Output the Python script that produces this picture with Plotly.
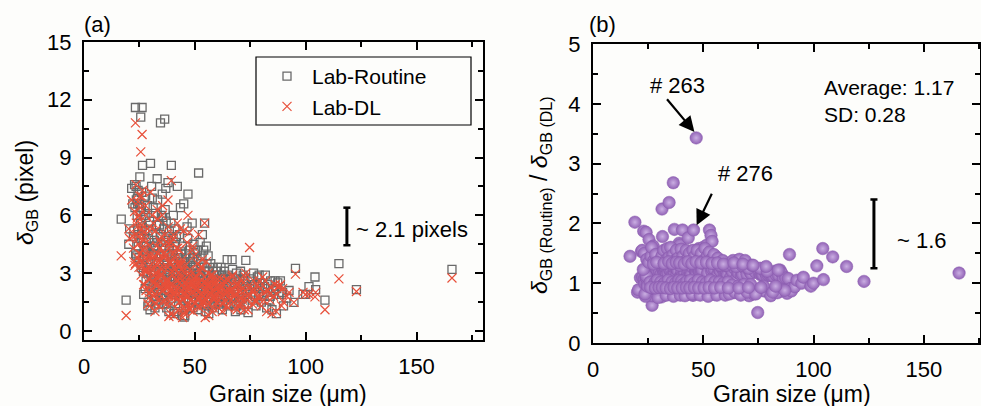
import plotly.graph_objects as go

# ---------------- data ----------------
grain_size = [
    # 16-23 um
    16.8, 19.0, 20.2, 20.6, 21.5, 22.0, 22.5, 23.0,
    # 23-30 um
    23.2, 26.2, 25.6, 23.5, 24.0, 24.1, 24.3, 24.5, 24.8, 25.0, 25.2, 25.4, 25.5, 25.8, 26.0, 26.4, 26.7, 26.8,
    26.9, 27.0, 27.3, 27.5, 27.8, 28.0, 28.3, 28.6, 28.8, 29.0, 29.3, 29.6, 29.8, 30.0, 30.2, 23.8, 24.2, 22.8,
    # 30-45 um
    30.5, 30.8, 31.0, 31.1, 31.3, 31.5, 31.6, 31.8, 32.0, 32.3, 32.5, 32.7, 32.8, 33.0, 33.3, 33.5, 33.6, 33.8,
    34.0, 34.2, 34.5, 34.6, 34.8, 35.0, 35.3, 35.5, 35.6, 36.0, 36.4, 36.6, 36.8, 36.9, 37.0, 37.3, 37.5, 37.6,
    37.9, 38.0, 38.2, 38.3, 38.5, 38.8, 39.1, 39.4, 39.5, 39.7, 40.0, 40.1, 40.3, 40.5, 40.6, 40.9, 41.0, 41.2,
    41.5, 41.8, 42.0, 42.1, 42.4, 42.7, 43.0, 43.2, 43.3, 43.5, 43.8, 44.0, 44.1, 44.4, 44.5, 44.7, 45.0, 45.2,
    45.5,
    # 45-60 um
    45.6, 46.0, 46.3, 46.5, 46.8, 46.9, 47.0, 47.4, 47.5, 47.8, 48.0, 48.2, 48.5, 48.8, 49.0, 49.2, 49.5, 49.8,
    50.0, 50.2, 50.6, 51.0, 51.3, 51.5, 51.7, 52.0, 52.4, 52.5, 52.8, 53.1, 53.4, 53.5, 53.8, 54.0, 54.1, 54.4,
    54.7, 55.0, 55.3, 55.5, 55.6, 56.0, 56.3, 56.7, 57.0, 57.4, 57.8, 58.0, 58.2, 58.6, 59.0, 59.4, 59.8,
    # 60-90 um
    60.2, 60.6, 61.0, 61.5, 62.0, 62.4, 62.8, 63.3, 63.7, 64.1, 64.6, 65.0, 65.5, 66.0, 66.8, 67.3, 67.8, 68.3,
    68.8, 69.3, 69.8, 70.3, 70.8, 71.3, 71.8, 72.3, 72.8, 73.0, 73.5, 74.0, 74.7, 75.3, 76.0, 76.5, 77.0, 77.6,
    78.2, 78.8, 79.4, 80.0, 80.6, 81.2, 81.8, 82.4, 83.0, 83.6, 84.2, 84.8, 85.5, 86.2, 86.8, 87.4, 88.0, 88.6,
    89.1, 89.6, 90.0,
    # > 90 um
    91.5, 92.5, 94.7, 95.4, 98.8, 100.0, 101.5, 104.2, 104.5, 108.7, 115.0, 122.9, 166.0,
    # further grains inside the dense cluster
    22.3, 23.3, 23.6, 24.4, 24.7, 25.3, 25.9, 26.3, 26.6, 27.1, 27.6, 27.9, 28.4, 29.1, 29.5,
    30.3, 30.7, 31.2, 31.7, 32.1, 32.4, 32.9, 33.2, 33.7, 34.1, 34.4, 34.9, 35.2, 35.8, 36.2, 36.5, 37.1, 37.4,
    37.8, 38.1, 38.6, 38.9, 39.2, 39.6, 39.9, 40.2, 40.7, 41.1, 41.4, 41.7, 42.2, 42.5, 42.9, 43.4, 43.7, 44.2,
    44.6, 44.9, 45.3, 45.8,
    46.1, 46.6, 47.2, 47.7, 48.1, 48.6, 49.1, 49.6, 50.1, 50.4, 50.8, 51.2, 51.8, 52.2, 52.7, 53.2, 53.7, 54.3,
    54.8, 55.2, 55.8, 56.2, 56.6, 57.2, 57.6, 58.4, 58.8, 59.2, 59.6, 60.0,
    60.4, 61.2, 61.8, 62.6, 63.0, 63.5, 64.4, 64.9, 65.8, 66.4, 67.0, 67.6, 68.5, 69.0, 70.0, 70.6, 71.5, 72.0,
    73.8, 75.8, 77.3, 79.0, 81.5, 84.0, 87.0,
    26.1, 27.4, 28.2, 28.9, 29.9, 31.4, 32.2, 33.1, 34.3, 35.1, 35.9, 36.7, 37.7, 38.4, 39.3, 40.4, 41.3, 42.3,
    43.1, 43.9, 44.8, 45.9, 46.7, 47.9, 48.9, 50.3, 51.4, 52.6, 53.9, 55.1, 56.4, 57.9, 59.1, 61.4, 63.9, 66.2,
    68.0, 70.5, 72.6, 76.2, 78.5, 82.8,
]

delta_routine = [
    5.8, 1.6, 4.5, 5.3, 7.4, 6.6, 5.2, 6.4,
    11.6, 11.6, 11.1, 7.5, 6.0, 6.9, 5.3, 4.4, 3.8, 6.6, 8.0, 6.2, 5.6, 3.3, 7.2, 8.6, 4.6, 3.1,
    1.9, 6.0, 3.9, 5.2, 7.0, 2.6, 4.1, 6.5, 1.3, 3.3, 1.5, 5.7, 1.1, 8.7, 2.9, 3.9, 6.6, 7.6,
    7.5, 6.9, 5.0, 2.0, 4.0, 4.4, 3.1, 1.8, 1.2, 6.1, 2.4, 5.5, 3.6, 7.9, 4.6, 2.0, 2.9, 1.4,
    5.5, 3.2, 10.8, 5.0, 2.8, 4.3, 7.1, 5.9, 1.7, 3.7, 11.0, 6.3, 2.5, 7.4, 4.9, 1.2, 4.0, 3.4,
    7.7, 4.7, 2.2, 1.0, 5.2, 3.0, 1.5, 8.6, 3.6, 4.0, 2.7, 4.2, 6.0, 0.9, 3.5, 1.9, 5.3, 4.6,
    3.1, 2.3, 3.0, 7.5, 1.0, 3.8, 5.0, 2.6, 3.8, 6.4, 1.6, 2.8, 3.3, 4.4, 0.8, 2.1, 6.6, 0.72,
    0.8,
    3.6, 2.2, 3.0, 5.4, 4.8, 7.1, 1.5, 2.7, 4.2, 3.9, 3.0, 1.9, 2.4, 5.6, 3.8, 1.2, 3.3, 2.0,
    4.0, 2.9, 1.6, 3.7, 2.3, 1.1, 8.2, 1.4, 4.6, 2.8, 3.5, 2.1, 5.0, 2.7, 1.8, 4.2, 2.6, 5.6,
    1.0, 3.1, 1.3, 3.5, 2.4, 3.9, 0.9, 2.2, 1.7, 2.8, 1.2, 2.4, 3.3, 2.0, 1.5, 2.6, 1.8,
    3.3, 1.4, 2.4, 1.8, 2.9, 1.1, 2.2, 3.1, 1.6, 2.5, 3.7, 1.3, 2.0, 2.7, 3.7, 1.7, 2.3, 1.0,
    3.0, 2.1, 1.5, 2.6, 1.1, 2.0, 2.9, 1.4, 2.3, 3.66, 1.9, 0.95, 2.2, 2.7, 1.6, 3.0, 2.4, 1.3,
    2.8, 1.9, 2.5, 1.5, 2.2, 1.8, 2.9, 1.2, 2.4, 1.6, 2.6, 1.1, 2.1, 2.6, 0.9, 2.5, 1.9, 2.6,
    1.9, 2.0, 1.3,
    1.7, 2.1, 1.48, 3.25, 1.9, 1.9, 2.3, 2.8, 2.15, 1.6, 3.5, 2.15, 3.2,
    4.9, 4.0, 6.8, 7.3, 5.0, 4.8, 6.4, 5.4, 3.4, 4.4, 2.2, 5.9, 3.7, 4.8, 2.4,
    3.9, 2.5, 6.4, 4.7, 3.0, 1.6, 4.2, 6.8, 3.5, 2.3, 4.9, 6.0, 2.6, 4.6, 3.2, 1.4, 5.7, 2.9,
    3.9, 2.0, 4.4, 2.6, 5.6, 1.7, 3.3, 4.8, 2.4, 3.6, 2.0, 4.9, 2.7, 3.4, 1.8, 3.0, 4.1, 2.4,
    3.6, 1.3, 2.9, 4.0,
    2.6, 3.4, 2.1, 1.2, 3.6, 1.6, 2.7, 4.5, 1.9, 3.2, 2.5, 4.2, 1.8, 3.0, 2.2, 3.9, 1.4, 3.3,
    2.0, 4.4, 1.6, 2.9, 1.9, 3.5, 2.3, 1.4, 2.9, 2.1, 3.1, 1.7,
    2.6, 2.0, 3.3, 1.5, 2.7, 2.0, 1.4, 2.9, 2.3, 1.8, 3.2, 2.1, 2.7, 1.3, 2.4, 3.1, 1.7, 2.6,
    2.1, 2.4, 1.8, 2.9, 2.3, 1.8, 2.2,
    5.0, 4.2, 3.0, 5.2, 3.6, 2.7, 4.4, 2.2, 3.9, 1.9, 5.3, 2.1, 3.1, 4.1, 2.4, 3.0, 2.6, 4.0,
    2.0, 3.2, 2.5, 1.7, 3.1, 2.2, 3.4, 2.6, 3.0, 1.6, 2.4, 2.0, 3.1, 2.5, 2.2, 2.1, 2.8, 1.8,
    2.5, 1.6, 2.7, 1.9, 2.3, 2.0,
]

delta_dl = [
    3.9, 0.8, 5.3, 4.8, 6.8, 4.9, 3.6, 3.4,
    10.8, 10.2, 9.3, 7.6, 5.4, 3.8, 4.9, 4.5, 3.3, 6.0, 7.0, 3.6, 6.4, 2.9, 5.5, 7.3, 3.6, 4.9,
    2.4, 4.7, 2.4, 4.3, 6.5, 2.1, 4.6, 5.3, 1.4, 2.7, 1.7, 4.4, 1.3, 7.2, 3.4, 5.0, 5.9, 6.2,
    5.3, 6.0, 3.8, 2.6, 1.8, 2.5, 2.5, 1.9, 1.0, 5.2, 2.8, 4.4, 3.0, 6.3, 4.0, 1.6, 3.6, 1.3,
    4.7, 3.7, 4.6, 3.3, 2.3, 3.2, 6.0, 6.5, 1.5, 3.3, 4.1, 5.0, 2.2, 3.9, 3.9, 1.4, 2.6, 2.7,
    6.8, 5.4, 1.8, 0.75, 4.3, 3.5, 0.9, 7.8, 2.2, 3.1, 2.4, 4.8, 5.0, 0.8, 1.85, 2.2, 3.8, 3.6,
    2.7, 2.6, 3.5, 5.6, 1.1, 3.4, 4.2, 1.5, 2.5, 5.3, 1.8, 3.2, 2.9, 3.7, 0.7, 1.6, 5.2, 0.9,
    1.0,
    1.9, 2.5, 2.4, 4.6, 1.4, 6.0, 1.3, 3.0, 5.1, 3.2, 1.9, 1.6, 2.0, 4.2, 4.4, 1.0, 2.7, 2.3,
    2.5, 2.2, 1.9, 2.8, 1.7, 1.3, 5.0, 1.2, 3.1, 3.3, 1.85, 2.4, 3.7, 1.5, 1.5, 2.5, 2.1, 5.6,
    0.7, 2.5, 1.6, 2.4, 1.8, 3.0, 0.8, 1.9, 2.0, 2.3, 1.0, 2.9, 2.6, 1.6, 1.8, 2.2, 1.5,
    2.7, 1.2, 2.1, 2.0, 2.3, 1.0, 1.8, 2.6, 1.9, 2.0, 2.7, 1.2, 1.7, 2.3, 2.8, 1.5, 2.0, 1.2,
    2.4, 2.4, 1.3, 2.1, 1.4, 1.7, 2.5, 1.1, 2.8, 3.0, 1.6, 1.1, 4.33, 2.3, 1.4, 2.6, 2.1, 1.5,
    2.4, 1.7, 2.2, 1.3, 2.8, 1.6, 2.6, 1.0, 2.1, 1.9, 2.3, 0.9, 1.8, 2.4, 1.0, 2.3, 2.3, 2.4,
    1.3, 2.2, 1.5,
    1.8, 2.0, 1.48, 2.95, 2.0, 1.9, 1.9, 1.77, 2.0, 1.1, 2.7, 2.05, 2.75,
    4.3, 3.5, 5.6, 6.7, 6.0, 4.0, 7.0, 4.2, 3.9, 5.1, 3.1, 6.0, 3.1, 3.7, 2.0,
    3.2, 2.1, 5.6, 3.9, 2.4, 1.4, 3.4, 5.8, 2.8, 1.9, 4.3, 4.9, 2.9, 3.8, 2.4, 1.6, 4.6, 2.5,
    3.3, 2.3, 3.6, 2.1, 4.6, 1.4, 2.9, 4.0, 2.0, 3.2, 1.8, 4.3, 2.2, 3.0, 1.5, 2.7, 3.4, 2.1,
    3.1, 1.2, 2.5, 3.4,
    2.1, 2.9, 1.8, 1.1, 2.9, 1.3, 2.3, 3.9, 1.5, 2.6, 2.1, 3.5, 1.6, 2.5, 1.9, 3.3, 1.3, 2.8,
    1.7, 3.6, 1.4, 2.4, 2.2, 2.9, 1.9, 1.2, 2.4, 1.9, 2.6, 1.5,
    2.3, 1.8, 2.7, 1.4, 2.4, 1.6, 1.3, 2.6, 2.1, 1.6, 2.9, 1.8, 2.3, 1.1, 2.0, 2.7, 1.6, 2.2,
    1.8, 2.1, 1.6, 2.6, 2.0, 1.6, 1.9,
    5.3, 3.2, 3.2, 3.9, 3.9, 2.9, 3.3, 2.4, 2.9, 2.1, 4.0, 2.3, 2.3, 4.5, 1.8, 3.3, 2.0, 4.3,
    1.5, 3.5, 1.9, 1.8, 2.3, 2.4, 2.5, 2.8, 2.2, 1.7, 1.8, 2.2, 2.3, 2.7, 1.7, 2.3, 2.1, 2.0,
    1.9, 1.7, 2.1, 2.0, 1.8, 2.1,
]

ratio = [
    1.45, 2.02, 0.85, 0.89, 1.09, 1.53, 1.10, 1.87,
    1.07, 1.14, 1.19, 0.99, 1.10, 1.85, 1.08, 0.98, 1.15, 1.10, 1.14, 1.73, 0.88, 1.14, 1.31, 1.18, 1.28, 0.63,
    0.79, 1.28, 1.62, 1.21, 1.08, 1.24, 0.89, 1.23, 0.93, 1.22, 0.88, 1.30, 0.85, 1.21, 0.85, 0.78, 1.12, 1.23,
    1.42, 1.15, 1.32, 0.77, 2.24, 1.78, 1.24, 0.95, 1.20, 1.17, 0.86, 1.25, 1.20, 1.25, 1.15, 1.25, 0.81, 1.08,
    1.17, 0.86, 2.35, 1.50, 1.22, 1.34, 1.18, 0.91, 1.13, 1.12, 2.68, 1.26, 1.14, 1.90, 1.26, 0.86, 1.54, 1.26,
    1.13, 0.87, 1.22, 1.33, 1.21, 0.86, 1.67, 1.10, 1.64, 1.29, 1.13, 0.88, 1.20, 1.12, 1.89, 0.86, 1.40, 1.28,
    1.15, 0.88, 0.86, 1.34, 0.91, 1.12, 1.19, 1.76, 1.52, 1.21, 0.89, 0.88, 1.14, 1.19, 1.14, 1.31, 1.27, 0.80,
    0.80,
    1.89, 0.88, 1.25, 1.17, 3.43, 1.18, 1.15, 0.90, 0.82, 1.22, 1.58, 1.19, 1.20, 1.33, 0.86, 1.20, 1.22, 0.87,
    1.60, 1.32, 0.84, 1.32, 1.35, 0.85, 1.64, 1.17, 1.48, 0.85, 1.89, 0.88, 1.35, 1.80, 1.20, 1.70, 1.24, 1.00,
    1.43, 1.24, 0.81, 1.45, 1.33, 1.30, 1.12, 1.16, 0.85, 1.22, 1.20, 0.83, 1.27, 1.25, 0.83, 1.18, 1.20,
    1.22, 1.17, 1.14, 0.90, 1.26, 1.10, 1.22, 1.19, 0.84, 1.25, 1.37, 1.08, 1.18, 1.17, 1.32, 1.13, 1.15, 0.83,
    1.25, 0.88, 1.15, 1.24, 0.79, 1.18, 1.16, 1.27, 0.82, 1.22, 1.19, 0.86, 0.51, 1.17, 1.14, 1.15, 1.14, 0.87,
    1.17, 1.12, 1.14, 1.15, 0.79, 1.12, 1.12, 1.20, 1.14, 0.84, 1.13, 1.22, 1.17, 1.08, 0.90, 1.09, 0.83, 1.08,
    1.48, 0.91, 0.87,
    0.94, 1.05, 1.00, 1.10, 0.95, 1.00, 1.29, 1.58, 1.06, 1.44, 1.28, 1.03, 1.17,
    1.55, 1.50, 0.82, 1.40, 0.95, 1.35, 1.02, 1.45, 1.60, 0.92, 1.38, 1.00, 1.48, 1.05, 0.76,
    1.35, 1.02, 1.45, 0.97, 1.55, 1.00, 1.38, 0.80, 1.58, 1.05, 1.43, 0.95, 1.60, 1.02, 1.47, 0.78, 1.38, 1.00,
    1.55, 0.96, 1.42, 1.05, 1.30, 0.80, 1.57, 1.04, 1.45, 0.99, 1.36, 0.79, 1.55, 1.03, 1.40, 0.96, 1.50, 1.05,
    1.35, 0.82, 1.55, 1.00,
    1.45, 0.95, 1.55, 1.05, 1.40, 0.80, 1.50, 1.02, 1.38, 0.95, 1.58, 1.00, 1.45, 0.78, 1.52, 1.05, 1.40, 0.96,
    1.48, 1.02, 1.36, 0.80, 1.42, 1.02, 1.30, 0.96, 1.38, 1.00, 1.30, 0.80,
    1.30, 1.02, 0.82, 1.32, 0.97, 1.38, 0.85, 1.28, 0.95, 1.40, 0.80, 1.30, 0.98, 1.38, 0.85, 1.25, 0.98, 1.30,
    0.82, 1.25, 0.95, 1.20, 0.85, 1.22, 0.88,
    0.93, 1.32, 0.92, 1.35, 0.93, 0.93, 1.33, 0.92, 1.36, 0.91, 1.33, 0.93, 1.35, 0.92, 1.34, 0.92, 1.32, 0.93,
    1.36, 0.92, 1.33, 0.93, 1.36, 0.92, 1.34, 0.92, 1.35, 0.93, 1.33, 0.92, 1.34, 0.93, 1.32, 0.92, 1.34, 0.92,
    1.32, 0.93, 1.30, 0.93, 1.28, 0.95,
]

assert len(grain_size) == len(delta_routine) == len(delta_dl) == len(ratio), (
    len(grain_size), len(delta_routine), len(delta_dl), len(ratio))

legend_names = ["Lab-Routine", "Lab-DL"]

# ---------------- figure ----------------
W, H = 981, 406
FONT = "Liberation Sans, Arial, sans-serif"


def px_x(p):
    return p / W


def px_y(p):
    return 1 - p / H


fig = go.Figure()

fig.add_trace(go.Scatter(
    x=grain_size, y=delta_routine, mode="markers", name=legend_names[0],
    marker=dict(symbol="square-open", size=8, color="#6a6a6a", line=dict(width=1.3, color="#6a6a6a")),
    xaxis="x", yaxis="y", legendgroup="g1",
))
fig.add_trace(go.Scatter(
    x=grain_size, y=delta_dl, mode="markers", name=legend_names[1],
    marker=dict(symbol="x-thin-open", size=9, color="#e8503a", line=dict(width=1.2, color="#e8503a")),
    xaxis="x", yaxis="y", legendgroup="g2",
))
fig.add_trace(go.Scatter(
    x=grain_size, y=ratio, mode="markers", showlegend=False,
    marker=dict(symbol="circle", size=12.5, color="#9263b6",
                gradient=dict(type="radial", color="#caaee2"),
                line=dict(width=0.5, color="#8a5cae")),
    xaxis="x2", yaxis="y2",
))

axis_common = dict(
    showline=True, linewidth=2.2, linecolor="black", mirror="ticks",
    ticks="inside", ticklen=8, tickwidth=2, tickcolor="black",
    showgrid=False, zeroline=False, automargin=False,
    tickfont=dict(family=FONT, size=22, color="black"),
)
minor_common = dict(ticks="inside", ticklen=5, tickwidth=2, tickcolor="black")

fig.update_layout(
    template="none",
    width=W, height=H,
    margin=dict(l=0, r=0, t=0, b=0, autoexpand=False),
    paper_bgcolor="#fdfdfb", plot_bgcolor="#fdfdfb",
    font=dict(family=FONT, size=22, color="black"),
    xaxis=dict(domain=[px_x(84), px_x(483)], range=[0, 180], dtick=50, tick0=0,
               anchor="y", ticklabelstandoff=5, minor=dict(dtick=25, **minor_common), **axis_common),
    yaxis=dict(domain=[px_y(340), px_y(42)], range=[-0.47, 15.0], dtick=3, tick0=0,
               anchor="x", ticklabelstandoff=6, minor=dict(dtick=1.5, tick0=0, **minor_common), **axis_common),
    xaxis2=dict(domain=[px_x(593), px_x(980)], range=[0, 175.5], dtick=50, tick0=0,
                anchor="y2", ticklabelstandoff=5, minor=dict(dtick=25, **minor_common), **axis_common),
    yaxis2=dict(domain=[px_y(343), px_y(44)], range=[0, 5], dtick=1, tick0=0,
                anchor="x2", ticklabelstandoff=6, minor=dict(dtick=0.5, tick0=0, **minor_common), **axis_common),
    showlegend=True,
    legend=dict(x=px_x(262), y=px_y(56), xanchor="left", yanchor="top",
                bgcolor="rgba(0,0,0,0)", borderwidth=0,
                font=dict(family=FONT, size=21, color="black"),
                itemwidth=40, tracegroupgap=0),
)

# legend frame
fig.add_shape(type="rect", xref="paper", yref="paper",
              x0=px_x(256), x1=px_x(471), y0=px_y(125), y1=px_y(57),
              line=dict(color="black", width=1.2), fillcolor="rgba(0,0,0,0)")


# scale bars
def scale_bar(xref, yref, xc, y0, y1, half):
    fig.add_shape(type="line", xref=xref, yref=yref, x0=xc, x1=xc, y0=y0, y1=y1,
                  line=dict(color="black", width=3))
    for yy in (y0, y1):
        fig.add_shape(type="line", xref=xref, yref=yref, x0=xc - half, x1=xc + half, y0=yy, y1=yy,
                      line=dict(color="black", width=2.5))


scale_bar("x", "y", 118.6, 4.45, 6.4, 1.6)
scale_bar("x2", "y2", 127.4, 1.25, 2.4, 1.6)

ann = []
ann.append(dict(xref="x", yref="y", x=148, y=5.28, text="~ 2.1 pixels", showarrow=False,
                font=dict(size=22), xanchor="center", yanchor="middle"))
ann.append(dict(xref="x2", yref="y2", x=149, y=1.72, text="~ 1.6", showarrow=False,
                font=dict(size=22), xanchor="center", yanchor="middle"))
ann.append(dict(xref="x2", yref="y2", x=38.4, y=4.31, text="# 263", showarrow=False,
                font=dict(size=22), xanchor="center", yanchor="middle"))
ann.append(dict(xref="x2", yref="y2", x=69.1, y=2.84, text="# 276", showarrow=False,
                font=dict(size=22), xanchor="center", yanchor="middle"))
# arrows
ann.append(dict(xref="x2", yref="y2", axref="x2", ayref="y2", x=46.0, y=3.53, ax=33.0, ay=4.10,
                text="", showarrow=True, arrowhead=2, arrowsize=1.4, arrowwidth=2.2, arrowcolor="black"))
ann.append(dict(xref="x2", yref="y2", axref="x2", ayref="y2", x=47.0, y=1.97, ax=54.2, ay=2.52,
                text="", showarrow=True, arrowhead=2, arrowsize=1.4, arrowwidth=2.2, arrowcolor="black"))
ann.append(dict(xref="x2", yref="y2", x=103.9, y=4.04, text="Average: 1.17<br>SD: 0.28",
                showarrow=False, align="left", xanchor="left", yanchor="middle",
                font=dict(size=21)))
# panel labels
ann.append(dict(xref="paper", yref="paper", x=px_x(82), y=px_y(25), text="(a)", showarrow=False,
                xanchor="left", yanchor="middle", font=dict(size=22)))
ann.append(dict(xref="paper", yref="paper", x=px_x(587), y=px_y(25), text="(b)", showarrow=False,
                xanchor="left", yanchor="middle", font=dict(size=22)))
# axis titles
ann.append(dict(xref="paper", yref="paper", x=px_x(288), y=px_y(394), text="Grain size (\u03bcm)",
                showarrow=False, xanchor="center", yanchor="middle", font=dict(size=23)))
ann.append(dict(xref="paper", yref="paper", x=px_x(792), y=px_y(394), text="Grain size (\u03bcm)",
                showarrow=False, xanchor="center", yanchor="middle", font=dict(size=23)))
ann.append(dict(xref="paper", yref="paper", x=px_x(27), y=px_y(193),
                text="<i>\u03b4</i><sub>GB</sub> (pixel)", textangle=-90,
                showarrow=False, xanchor="center", yanchor="middle", font=dict(size=23)))
ann.append(dict(xref="paper", yref="paper", x=px_x(540), y=px_y(195),
                text="<i>\u03b4</i><sub>GB (Routine)</sub> / <i>\u03b4</i><sub>GB (DL)</sub>", textangle=-90,
                showarrow=False, xanchor="center", yanchor="middle", font=dict(size=23)))
fig.update_layout(annotations=ann)

# the page's default 8px body margin would shift the fixed-size figure; remove it
fig.write_html("out.html", config={"displayModeBar": False},
               post_script="document.body.style.margin='0px';document.body.style.padding='0px';")
